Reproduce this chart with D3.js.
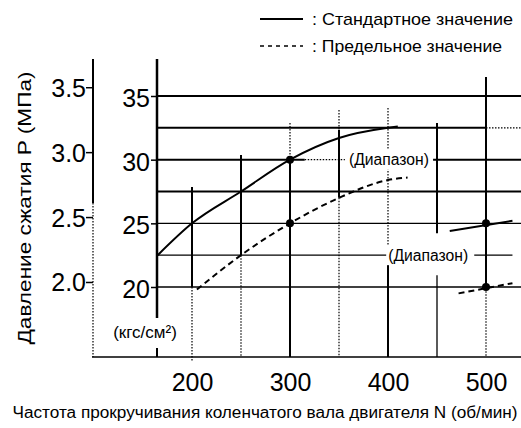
<!DOCTYPE html>
<html><head><meta charset="utf-8">
<script src="https://cdn.jsdelivr.net/npm/d3@7"></script>
<style>
html,body{margin:0;padding:0;background:#fff;}
svg{display:block;font-family:"Liberation Sans",Arial,sans-serif;}
</style></head>
<body>
<svg id="chart" width="521" height="428"></svg>
<script>
// ---- data ----
const rpmTicks = [200, 300, 400, 500];
const kgfTicks = [20, 25, 30, 35];
const mpaTicks = [2.0, 2.5, 3.0, 3.5];
const gridRpm = [200, 250, 300, 350, 400, 450, 500];
const gridKgf = [20, 22.5, 25, 27.5, 30, 32.5, 35];
const standardN = [165, 200, 250, 300, 350, 400, 410];
const standardP = [22.5, 25, 27.5, 30, 31.7, 32.5, 32.6];
const limitN = [205, 250, 300, 350, 400, 420];
const limitP = [19.8, 22.5, 25, 27.0, 28.4, 28.6];
const rangeStdN = [463, 527];
const rangeStdP = [24.4, 25.2];
const rangeLimN = [472, 527];
const rangeLimP = [19.5, 20.3];
const markN = [300, 300, 500, 500];
const markP = [30, 25, 25, 20];
const legendLabels = [": Стандартное значение", ": Предельное значение"];
const yTitle = "Давление сжатия P (МПа)";
const xTitle = "Частота прокручивания коленчатого вала двигателя N (об/мин)";
const unitLabel = "(кгс/см²)";
const rangeLabel = "(Диапазон)";
const KGF_PER_MPA = 10.197;

// ---- scales ----
const svg = d3.select("#chart");
const x = d3.scaleLinear().domain([200, 500]).range([192, 486]);
const y = d3.scaleLinear().domain([20, 35]).range([287, 96]);
const yMpa = d3.scaleLinear().domain([20 / KGF_PER_MPA, 35 / KGF_PER_MPA]).range([287, 96]);
const nMin = x.invert(157), nMax = x.invert(521);
const kMin = y.invert(357);

const solid = {w: 2, dash: null};
const thin = {w: 1.3, dash: null};
const dotted = {w: 1.2, dash: "1.5,1.5"};

// vertical grid segments per rpm: [kgfFrom, kgfTo, style]
const vSeg = {
  200: [[27.85, 20, solid], [20, y.invert(362), dotted]],
  250: [[30.36, 22.5, solid], [22.5, kMin, dotted]],
  300: [[32.88, 30, dotted], [30, kMin, solid]],
  350: [[33.9, 32.33, dotted], [32.33, 27, solid], [27, kMin, dotted]],
  400: [[34.06, 22.5, dotted], [22.5, kMin, solid]],
  450: [[32.88, 24.23, solid], [20.93, kMin, thin]],
  500: [[36.5, 19.9, solid], [19.9, kMin, dotted]]
};
// horizontal grid segments per kgf: [rpmFrom, rpmTo, style]
const hSeg = {
  35: [[nMin, nMax, solid]],
  32.5: [[nMin, 500, solid], [500, nMax, dotted]],
  30: [[nMin, 315, solid], [315, 356, dotted], [446, nMax, solid]],
  27.5: [[nMin, nMax, solid]],
  25: [[nMin, nMax, thin]],
  22.5: [[nMin, 402, thin], [488, 527, thin]],
  20: [[nMin, nMax, thin]]
};

const g = svg.append("g");
gridRpm.forEach(n => {
  (vSeg[n] || []).forEach(s => {
    g.append("line").attr("x1", x(n)).attr("x2", x(n))
      .attr("y1", y(s[0])).attr("y2", y(s[1]))
      .attr("stroke", "#000").attr("stroke-width", s[2].w)
      .attr("stroke-dasharray", s[2].dash);
  });
});
gridKgf.forEach(k => {
  (hSeg[k] || []).forEach(s => {
    g.append("line").attr("x1", x(s[0])).attr("x2", x(s[1]))
      .attr("y1", y(k)).attr("y2", y(k))
      .attr("stroke", "#000").attr("stroke-width", s[2].w)
      .attr("stroke-dasharray", s[2].dash);
  });
});

// axis lines
svg.append("line").attr("x1", 93).attr("x2", 93).attr("y1", 59).attr("y2", 203)
  .attr("stroke", "#000").attr("stroke-width", 2);
svg.append("line").attr("x1", 93).attr("x2", 93).attr("y1", 203).attr("y2", 357)
  .attr("stroke", "#000").attr("stroke-width", 1.2).attr("stroke-dasharray", "1.5,1.5");
svg.append("line").attr("x1", 157).attr("x2", 157).attr("y1", 59).attr("y2", 318)
  .attr("stroke", "#000").attr("stroke-width", 2.5);
svg.append("line").attr("x1", 157).attr("x2", 157).attr("y1", 348).attr("y2", 357)
  .attr("stroke", "#000").attr("stroke-width", 2);
svg.append("line").attr("x1", 92).attr("x2", 521).attr("y1", 357).attr("y2", 357)
  .attr("stroke", "#000").attr("stroke-width", 1.5);

// axes with ticks/labels
const axK = svg.append("g").attr("transform", "translate(157,0)")
  .call(d3.axisLeft(y).tickValues(kgfTicks).tickSize(6).tickPadding(1));
const axM = svg.append("g").attr("transform", "translate(93,0)")
  .call(d3.axisLeft(yMpa).tickValues(mpaTicks).tickFormat(d3.format(".1f")).tickSize(7).tickPadding(0));
const axX = svg.append("g").attr("transform", "translate(0,357)")
  .call(d3.axisBottom(x).tickValues(rpmTicks).tickSize(0).tickPadding(16));
[axK, axM, axX].forEach(a => {
  a.select(".domain").remove();
  a.selectAll("text").attr("font-size", 25).attr("font-family", "Liberation Sans, Arial, sans-serif").attr("fill", "#000");
  a.selectAll("line").attr("stroke", "#000").attr("stroke-width", 1.5);
});
axK.selectAll("text").attr("dy", "0.42em");
axM.selectAll("text").attr("dy", "0.36em");

// curves
const lineGen = d3.line().x(d => x(d[0])).y(d => y(d[1])).curve(d3.curveMonotoneX);
svg.append("path").datum(standardN.map((n, i) => [n, standardP[i]]))
  .attr("d", lineGen).attr("fill", "none").attr("stroke", "#000").attr("stroke-width", 2);
svg.append("path").datum(limitN.map((n, i) => [n, limitP[i]]))
  .attr("d", lineGen).attr("fill", "none").attr("stroke", "#000").attr("stroke-width", 2)
  .attr("stroke-dasharray", "6,4");
const segGen = d3.line().x(d => x(d[0])).y(d => y(d[1]));
svg.append("path").datum(rangeStdN.map((n, i) => [n, rangeStdP[i]]))
  .attr("d", segGen).attr("fill", "none").attr("stroke", "#000").attr("stroke-width", 2);
svg.append("path").datum(rangeLimN.map((n, i) => [n, rangeLimP[i]]))
  .attr("d", segGen).attr("fill", "none").attr("stroke", "#000").attr("stroke-width", 2)
  .attr("stroke-dasharray", "6,4");

// marker dots
svg.selectAll("circle.mark").data(markN.map((n, i) => [n, markP[i]])).enter()
  .append("circle").attr("class", "mark")
  .attr("cx", d => x(d[0])).attr("cy", d => y(d[1])).attr("r", 4).attr("fill", "#000");

// range labels
function rangeText(n, k) {
  svg.append("rect").attr("x", x(n) - 42).attr("y", y(k) - 10).attr("width", 84).attr("height", 20).attr("fill", "#fff");
  svg.append("text").attr("x", x(n)).attr("y", y(k)).attr("dy", "0.35em")
    .attr("text-anchor", "middle").attr("font-size", 16)
    .attr("textLength", 80).attr("lengthAdjust", "spacingAndGlyphs").text(rangeLabel);
}
rangeText(401, 30);
rangeText(441, 22.5);

// unit label
svg.append("rect").attr("x", 100).attr("y", 320).attr("width", 90).attr("height", 26).attr("fill", "#fff");
svg.append("text").attr("x", 145).attr("y", 338).attr("text-anchor", "middle")
  .attr("font-size", 17).text(unitLabel);

// titles
svg.append("text").attr("transform", "translate(31,208) rotate(-90)")
  .attr("text-anchor", "middle").attr("font-size", 18)
  .attr("textLength", 273).attr("lengthAdjust", "spacingAndGlyphs").text(yTitle);
svg.append("text").attr("x", 265).attr("y", 418).attr("text-anchor", "middle")
  .attr("font-size", 16).attr("textLength", 505).attr("lengthAdjust", "spacingAndGlyphs").text(xTitle);

// legend
const legY = [19, 46];
legendLabels.forEach((t, i) => {
  svg.append("line").attr("x1", 260).attr("x2", 303).attr("y1", legY[i]).attr("y2", legY[i])
    .attr("stroke", "#000").attr("stroke-width", i === 0 ? 2 : 1.3)
    .attr("stroke-dasharray", i === 0 ? null : "4,4");
  svg.append("text").attr("x", 312).attr("y", legY[i]).attr("dy", "0.35em")
    .attr("font-size", 17).attr("textLength", i === 0 ? 201 : 190)
    .attr("lengthAdjust", "spacingAndGlyphs").text(t);
});
</script>
</body></html>
